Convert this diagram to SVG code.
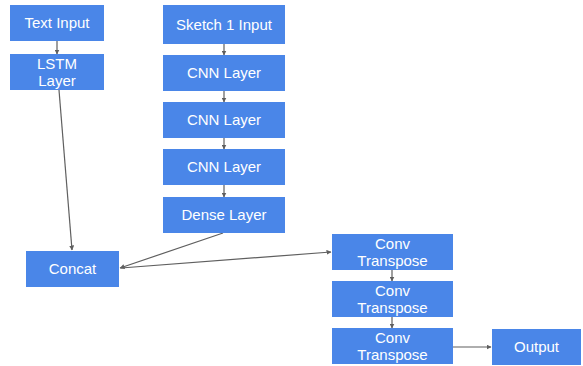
<svg xmlns="http://www.w3.org/2000/svg" width="583" height="366" viewBox="0 0 583 366">
  <defs>
    <style>
      .box { fill: #4a86e8; }
      .lbl { fill: #ffffff; font-family: "Liberation Sans", Arial, sans-serif; font-size: 15px; text-anchor: middle; }
      .edge { stroke: #5f5f5f; stroke-width: 1.2; fill: none; marker-end: url(#arrow); }
    </style>
    <marker id="arrow" viewBox="0 0 10 10" refX="9" refY="5" markerWidth="5" markerHeight="5" orient="auto" markerUnits="userSpaceOnUse">
      <path d="M0,0 L10,5 L0,10 z" fill="#5f5f5f"/>
    </marker>
  </defs>
  <rect width="583" height="366" fill="#ffffff"/>

  <g id="connectors">
    <line class="edge" x1="57" y1="41" x2="57" y2="54"/>
    <line class="edge" x1="59" y1="90" x2="72" y2="250"/>
    <line class="edge" x1="224" y1="44" x2="224" y2="55"/>
    <line class="edge" x1="224" y1="91" x2="224" y2="102"/>
    <line class="edge" x1="224" y1="138" x2="224" y2="149"/>
    <line class="edge" x1="224" y1="185" x2="224" y2="197"/>
    <line class="edge" x1="223" y1="233" x2="120" y2="268"/>
    <line class="edge" x1="121" y1="268" x2="331" y2="252"/>
    <line class="edge" x1="392" y1="270" x2="392" y2="281"/>
    <line class="edge" x1="392" y1="317" x2="392" y2="328"/>
    <line class="edge" x1="453" y1="347" x2="491" y2="347"/>
  </g>

  <g id="text-input">
    <rect class="box" x="10" y="5" width="94" height="36"/>
    <text class="lbl" x="57" y="28">Text Input</text>
  </g>
  <g id="lstm-layer">
    <rect class="box" x="10" y="54" width="94" height="36"/>
    <text class="lbl" x="57" y="69">LSTM</text>
    <text class="lbl" x="57" y="86">Layer</text>
  </g>
  <g id="sketch-input">
    <rect class="box" x="163" y="5" width="122" height="39"/>
    <text class="lbl" x="224" y="30">Sketch 1 Input</text>
  </g>
  <g id="cnn-1">
    <rect class="box" x="163" y="55" width="122" height="36"/>
    <text class="lbl" x="224" y="78">CNN Layer</text>
  </g>
  <g id="cnn-2">
    <rect class="box" x="163" y="102" width="122" height="36"/>
    <text class="lbl" x="224" y="125">CNN Layer</text>
  </g>
  <g id="cnn-3">
    <rect class="box" x="163" y="149" width="122" height="36"/>
    <text class="lbl" x="224" y="172">CNN Layer</text>
  </g>
  <g id="dense-layer">
    <rect class="box" x="163" y="197" width="122" height="36"/>
    <text class="lbl" x="224" y="220">Dense Layer</text>
  </g>
  <g id="concat">
    <rect class="box" x="26" y="251" width="93" height="36"/>
    <text class="lbl" x="72.5" y="274">Concat</text>
  </g>
  <g id="conv-transpose-1">
    <rect class="box" x="332" y="234" width="121" height="36"/>
    <text class="lbl" x="392.5" y="249">Conv</text>
    <text class="lbl" x="392.5" y="266">Transpose</text>
  </g>
  <g id="conv-transpose-2">
    <rect class="box" x="332" y="281" width="121" height="36"/>
    <text class="lbl" x="392.5" y="296">Conv</text>
    <text class="lbl" x="392.5" y="313">Transpose</text>
  </g>
  <g id="conv-transpose-3">
    <rect class="box" x="332" y="328" width="121" height="36"/>
    <text class="lbl" x="392.5" y="343">Conv</text>
    <text class="lbl" x="392.5" y="360">Transpose</text>
  </g>
  <g id="output">
    <rect class="box" x="492" y="329" width="89" height="36"/>
    <text class="lbl" x="536.5" y="352">Output</text>
  </g>
</svg>
